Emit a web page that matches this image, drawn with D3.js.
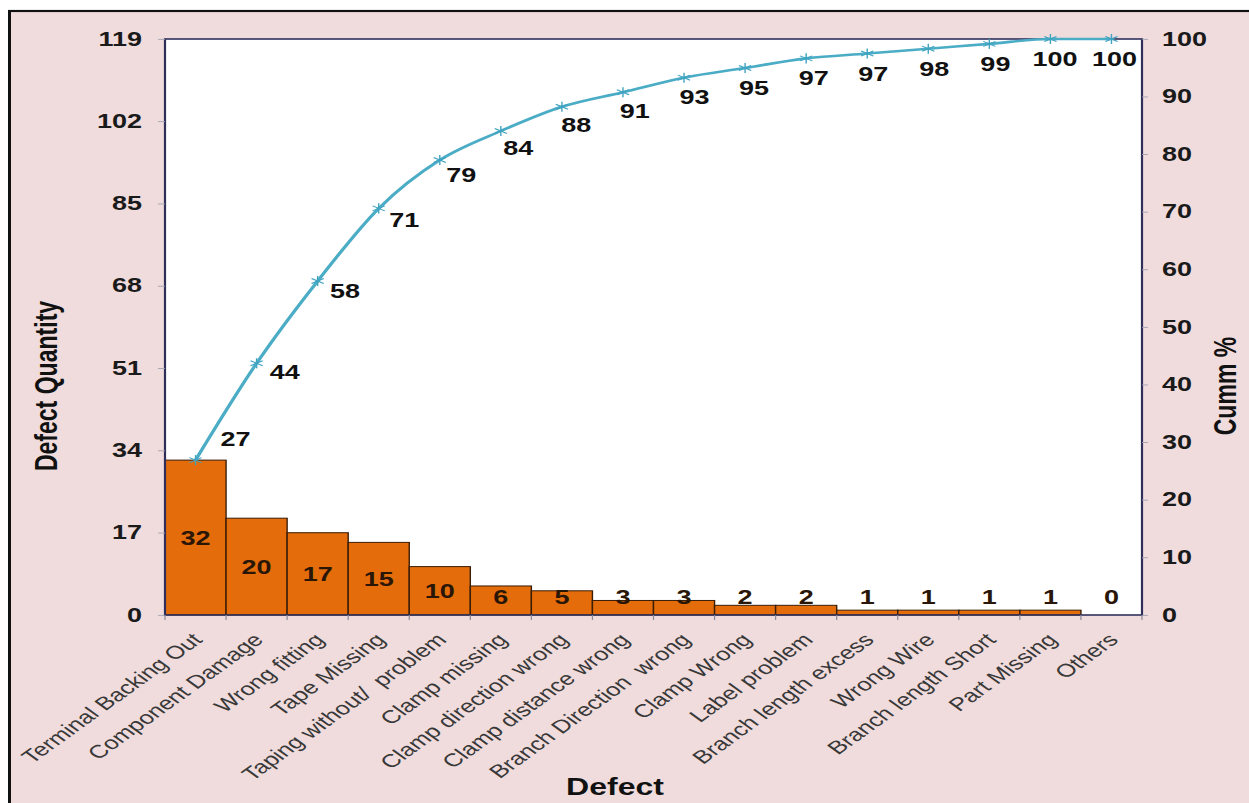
<!DOCTYPE html>
<html>
<head>
<meta charset="utf-8">
<script src="https://cdn.jsdelivr.net/npm/d3@7"></script>
<style>
  html, body { margin: 0; padding: 0; background: #ffffff; }
  svg { display: block; }
  text { font-family: "Liberation Sans", Arial, sans-serif; }
</style>
</head>
<body>
<svg id="chart" width="1249" height="803"></svg>
<script>
// ---- Data ----
const categories = [
  "Terminal Backing Out", "Component Damage", "Wrong fitting", "Tape Missing",
  "Taping without/  problem", "Clamp missing", "Clamp direction wrong", "Clamp distance wrong",
  "Branch Direction  wrong", "Clamp Wrong", "Label problem", "Branch length excess",
  "Wrong Wire", "Branch length Short", "Part Missing", "Others"
];
const defectQty = [32, 20, 17, 15, 10, 6, 5, 3, 3, 2, 2, 1, 1, 1, 1, 0];
const cummPct = [26.89, 43.70, 57.98, 70.59, 78.99, 84.03, 88.24, 90.76, 93.28, 94.96, 96.64, 97.48, 98.32, 99.16, 100, 100];
const leftTicks = [0, 17, 34, 51, 68, 85, 102, 119];
const rightTicks = [0, 10, 20, 30, 40, 50, 60, 70, 80, 90, 100];

// ---- Layout (logical coordinates, then vertically compressed like the source picture) ----
const W = 1249, H = 803, K = 0.72;
const LH = H / K;
const plot = { left: 165, right: 1142, top: 39 / K, bottom: 615 / K };

const svg = d3.select("#chart");
svg.append("rect").attr("width", W).attr("height", H).attr("fill", "#ffffff");
const g = svg.append("g").attr("transform", `scale(1,${K})`);

// pink frame
g.append("rect")
  .attr("x", 9.5).attr("y", 11 / K)
  .attr("width", W + 20).attr("height", LH + 20)
  .attr("fill", "#f0dcdc").attr("stroke", "#111").attr("stroke-width", 3);

// plot area
g.append("rect")
  .attr("x", plot.left).attr("y", plot.top)
  .attr("width", plot.right - plot.left).attr("height", plot.bottom - plot.top)
  .attr("fill", "#ffffff");

const x = d3.scaleBand().domain(categories).range([plot.left, plot.right]).padding(0);
const yL = d3.scaleLinear().domain([0, 119]).range([plot.bottom, plot.top]);
const yR = d3.scaleLinear().domain([0, 100]).range([plot.bottom, plot.top]);

// bars
g.append("g").selectAll("rect").data(defectQty).join("rect")
  .attr("x", (d, i) => x(categories[i]))
  .attr("y", d => yL(d))
  .attr("width", x.bandwidth())
  .attr("height", d => yL(0) - yL(d))
  .attr("fill", "#e46c0a")
  .attr("stroke", "#3a1e08")
  .attr("stroke-width", 1.4);

// plot border
g.append("rect")
  .attr("x", plot.left).attr("y", plot.top)
  .attr("width", plot.right - plot.left).attr("height", plot.bottom - plot.top)
  .attr("fill", "none").attr("stroke", "#2f2f5c").attr("stroke-width", 2.2);

// left axis
const axL = g.append("g").attr("transform", `translate(${plot.left},0)`)
  .call(d3.axisLeft(yL).tickValues(leftTicks).tickSize(7).tickPadding(16));
axL.select(".domain").remove();
axL.selectAll("line").attr("stroke", "#a0a0b0").attr("stroke-width", 1.2);
axL.selectAll("text").attr("font-size", 27).attr("font-weight", "bold").attr("fill", "#1a1a1a")
  .attr("font-family", '"Liberation Sans", Arial, sans-serif');

// right axis
const axR = g.append("g").attr("transform", `translate(${plot.right},0)`)
  .call(d3.axisRight(yR).tickValues(rightTicks).tickSize(6).tickPadding(14));
axR.select(".domain").remove();
axR.selectAll("line").attr("stroke", "#a0a0b0").attr("stroke-width", 1.2);
axR.selectAll("text").attr("font-size", 27).attr("font-weight", "bold").attr("fill", "#1a1a1a")
  .attr("font-family", '"Liberation Sans", Arial, sans-serif');

// x tick marks at category boundaries
const bounds = categories.map(c => x(c)).concat([plot.right]);
g.append("g").selectAll("line").data(bounds).join("line")
  .attr("x1", d => d).attr("x2", d => d)
  .attr("y1", plot.bottom).attr("y2", plot.bottom + 7)
  .attr("stroke", "#8a8a9a").attr("stroke-width", 1.2);

// x labels (rotated)
g.append("g").selectAll("text").data(categories).join("text")
  .attr("transform", d => `translate(${x(d) + x.bandwidth() / 2 + 8},${plot.bottom + 36}) rotate(-45)`)
  .attr("text-anchor", "end")
  .attr("font-size", 25.5)
  .attr("fill", "#383838")
  .attr("xml:space", "preserve")
  .text(d => d);

// bar value labels
g.append("g").selectAll("text").data(defectQty).join("text")
  .attr("x", (d, i) => x(categories[i]) + x.bandwidth() / 2)
  .attr("y", d => Math.min(yL(d / 2), yL(0) - 25))
  .attr("dy", "0.36em")
  .attr("text-anchor", "middle")
  .attr("font-size", 27).attr("font-weight", "bold").attr("fill", "#2a1606")
  .text(d => d);

// cumulative line
const pts = cummPct.map((v, i) => [x(categories[i]) + x.bandwidth() / 2, yR(v)]);
g.append("path")
  .attr("d", d3.line().curve(d3.curveMonotoneX)(pts))
  .attr("fill", "none").attr("stroke", "#4bacc6").attr("stroke-width", 3.6);

// asterisk markers
const mk = g.append("g").attr("stroke", "#3fa3c0").attr("stroke-width", 1.4);
pts.forEach(p => {
  [[0, 1], [0.87, 0.5], [0.87, -0.5]].forEach(([dx, dy]) => {
    mk.append("line")
      .attr("x1", p[0] - dx * 7).attr("y1", p[1] - dy * 7)
      .attr("x2", p[0] + dx * 7).attr("y2", p[1] + dy * 7);
  });
});

// line data labels placed on the lower-right side of the curve
g.append("g").selectAll("text").data(cummPct).join("text")
  .each(function (v, i) {
    const p = pts[i];
    let ox, oy;
    if (i === 0) { ox = 40; oy = -30; }
    else {
      const a = pts[i - 1], b = pts[Math.min(i + 1, pts.length - 1)];
      let dx = b[0] - a[0], dy = b[1] - a[1];
      const len = Math.hypot(dx, dy);
      dx /= len; dy /= len;
      ox = -dy * 28 + 3; oy = dx * 28;
    }
    d3.select(this).attr("x", p[0] + ox).attr("y", p[1] + oy);
  })
  .attr("dy", "0.36em")
  .attr("text-anchor", "middle")
  .attr("font-size", 27).attr("font-weight", "bold").attr("fill", "#111")
  .text(v => d3.format(".0f")(v));

// axis titles
g.append("text")
  .attr("transform", `translate(46,${386 / K}) rotate(-90)`)
  .attr("text-anchor", "middle").attr("dominant-baseline", "central")
  .attr("font-size", 32).attr("font-weight", "bold").attr("fill", "#111")
  .text("Defect Quantity");

g.append("text")
  .attr("transform", `translate(1225,${386 / K}) rotate(-90)`)
  .attr("text-anchor", "middle").attr("dominant-baseline", "central")
  .attr("font-size", 32).attr("font-weight", "bold").attr("fill", "#111")
  .text("Cumm %");

g.append("text")
  .attr("x", 615).attr("y", 795 / K)
  .attr("text-anchor", "middle")
  .attr("font-size", 32).attr("font-weight", "bold").attr("fill", "#111")
  .text("Defect");
</script>
</body>
</html>
